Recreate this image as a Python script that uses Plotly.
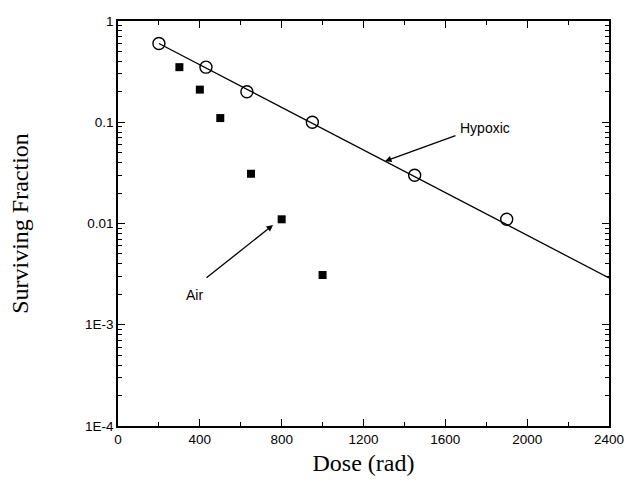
import plotly.graph_objects as go

hyp_dose = [200, 430, 630, 950, 1450, 1900]
hyp_sf = [0.6, 0.35, 0.2, 0.1, 0.03, 0.011]
air_dose = [300, 400, 500, 650, 800, 1000]
air_sf = [0.35, 0.21, 0.11, 0.031, 0.011, 0.0031]
fit_dose = [200, 2400]
fit_sf = [0.6, 0.0029]

y_tickvals = [1e-4, 1e-3, 1e-2, 1e-1, 1]
y_ticktext = ["1E-4", "1E-3", "0.01", "0.1", "1"]
y_minor = [m * 10.0 ** e for e in range(-4, 0) for m in range(2, 10)]
x_tickvals = [0, 400, 800, 1200, 1600, 2000, 2400]
x_minor = [200, 600, 1000, 1400, 1800, 2200]

fig = go.Figure()
fig.add_trace(go.Scatter(x=fit_dose, y=fit_sf, mode="lines",
                         line=dict(color="black", width=1.3), showlegend=False))
fig.add_trace(go.Scatter(x=hyp_dose, y=hyp_sf, mode="markers",
                         marker=dict(symbol="circle-open", size=12, color="black",
                                     line=dict(width=1.4, color="black")),
                         showlegend=False))
fig.add_trace(go.Scatter(x=air_dose, y=air_sf, mode="markers",
                         marker=dict(symbol="square", size=8, color="black"),
                         showlegend=False))

fig.add_annotation(x=1305, y=-1.385, ax=1657, ay=-1.126, xref="x", yref="y",
                   axref="x", ayref="y", text="", showarrow=True,
                   arrowhead=2, arrowsize=1, arrowwidth=1.3, arrowcolor="black")
fig.add_annotation(x=1794, y=-1.057, xref="x", yref="y", text="Hypoxic",
                   showarrow=False, font=dict(family="Liberation Sans, Arial", size=14, color="black"))
fig.add_annotation(x=758, y=-2.015, ax=425, ay=-2.548, xref="x", yref="y",
                   axref="x", ayref="y", text="", showarrow=True,
                   arrowhead=2, arrowsize=1, arrowwidth=1.3, arrowcolor="black")
fig.add_annotation(x=376, y=-2.706, xref="x", yref="y", text="Air",
                   showarrow=False, font=dict(family="Liberation Sans, Arial", size=14, color="black"))

tickfont = dict(family="Liberation Sans, Arial", size=13.5, color="black")
titlefont = dict(family="Liberation Serif, Times New Roman", size=24, color="black")
axis_common = dict(showline=True, linecolor="black", linewidth=1.5, mirror="ticks",
                   ticks="inside", tickcolor="black", tickwidth=1.3, ticklen=7,
                   showgrid=False, zeroline=False, tickfont=tickfont, title_font=titlefont,
                   automargin=False)

fig.update_xaxes(range=[0, 2400], tickvals=x_tickvals, title_text="Dose (rad)",
                 minor=dict(ticks="inside", ticklen=4, tickcolor="black", tickwidth=1.2,
                            tickmode="array", tickvals=x_minor, showgrid=False),
                 title_standoff=8, **axis_common)
fig.update_yaxes(type="log", range=[-4, 0], tickvals=y_tickvals, ticktext=y_ticktext,
                 title_text="Surviving Fraction", title_standoff=50,
                 minor=dict(ticks="inside", ticklen=4, tickcolor="black", tickwidth=1.2,
                            tickmode="array", tickvals=y_minor, showgrid=False),
                 **axis_common)

fig.update_layout(width=628, height=490, margin=dict(l=118, r=19, t=21, b=64),
                  plot_bgcolor="white", paper_bgcolor="white")
fig.write_html("out.html")
